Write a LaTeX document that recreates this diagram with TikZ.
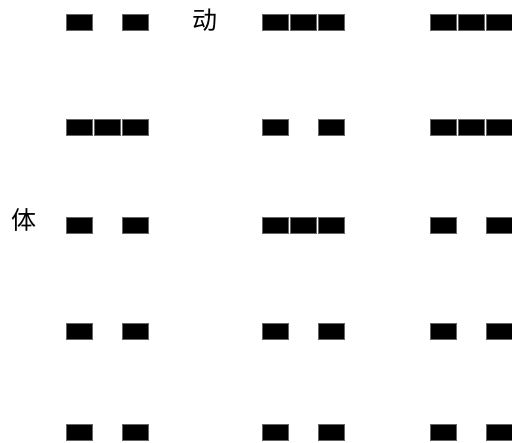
\documentclass[tikz,border=0pt]{standalone}
\usepackage{fontspec}
\newfontfamily\cjk{Noto Sans CJK SC}
\tikzset{
  yao/.style={rectangle, anchor=north west, minimum width=26pt, minimum height=16pt, inner sep=0pt, outer sep=0pt, fill=black, draw=black!60, line width=0.5pt},
  lbl/.style={inner sep=0pt, font=\cjk\fontsize{25}{25}\selectfont}
}
\begin{document}
\begin{tikzpicture}[x=1pt,y=-1pt]
\useasboundingbox (0,0) rectangle (512,443);
% columns: left x ; rows: top y ; pattern 1 = solid, 0 = broken
\foreach \c/\cx/\pat in {1/66/{0,1,0,0,0}, 2/262/{1,0,1,0,0}, 3/430/{1,1,0,0,0}} {
  \foreach \r/\ry [count=\i] in {1/14, 2/119, 3/217.3, 4/323.3, 5/424} {
    \pgfmathsetmacro{\s}{{\pat}[\i-1]}
    \node[yao] (b\c\r a) at (\cx,\ry) {};
    \node[yao] (b\c\r c) at (\cx+56,\ry) {};
    \ifnum\s=1
      \node[yao] (b\c\r b) at (\cx+28,\ry) {};
    \fi
  }
}
\node[lbl] (dong) at (204.7,20) {动};
\node[lbl] (ti) at (24.5,220.5) {体};
\end{tikzpicture}
\end{document}
